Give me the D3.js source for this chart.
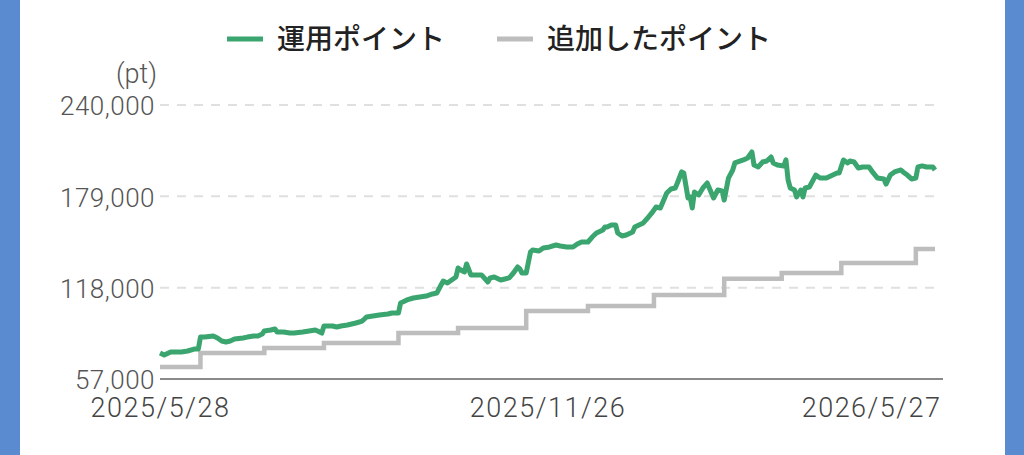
<!DOCTYPE html>
<html>
<head>
<meta charset="utf-8">
<script src="https://cdn.jsdelivr.net/npm/d3@7"></script>
<style>
  html, body { margin: 0; padding: 0; background: #fff; }
  body { width: 1024px; height: 455px; overflow: hidden; }
  .tick text { font-family: Roboto, "Noto Sans", sans-serif; font-weight: 300; }
</style>
</head>
<body>
<div id="chart"></div>
<script>
// days counted from the first date on the x axis
const startDate = "2025-05-28";
const xTickDays = [0, 182, 364];
const xTickLabels = ["2025/5/28", "2025/11/26", "2026/5/27"];
const yTicks = [57000, 118000, 179000, 240000];

const seriesNames = ["運用ポイント", "追加したポイント"];
const seriesColors = ["#3ba56f", "#bdbdbd"];

// 運用ポイント
const greenDays = [0, 2, 5, 7, 10, 13, 16, 18, 19, 21, 25, 27, 29, 31, 33, 35, 39, 41, 44, 46,
  48, 49, 52, 54, 55, 58, 61, 63, 67, 70, 73, 74, 76, 77, 81, 83, 85, 88, 92, 95,
  97, 100, 103, 107, 109, 112, 113, 114, 116, 119, 122, 125, 128, 130, 132, 133, 135, 137, 139, 140,
  142, 143, 144, 146, 148, 151, 154, 155, 157, 160, 162, 164, 166, 168, 169, 170, 172, 174, 175, 178,
  180, 183, 186, 188, 191, 194, 196, 198, 201, 203, 205, 208, 209, 210, 212, 214, 215, 217, 219, 222,
  223, 225, 227, 229, 231, 233, 235, 236, 238, 240, 242, 243, 245, 246, 248, 249, 250, 251, 253, 255,
  257, 258, 260, 262, 264, 265, 267, 269, 270, 274, 276, 278, 279, 281, 283, 285, 287, 288, 290, 293,
  294, 295, 296, 298, 299, 301, 302, 303, 305, 308, 310, 313, 316, 318, 319, 321, 323, 324, 326, 328,
  330, 333, 335, 337, 340, 341, 343, 345, 348, 349, 351, 353, 355, 356, 358, 360, 363, 364];
const greenValues = [74400, 73000, 75000, 75000, 75000, 75700, 77000, 77000, 85000, 85000, 85700, 84400, 82400, 81700, 82400, 83700, 84400, 85000, 85700, 85700,
  87000, 89100, 89700, 90400, 88400, 88400, 87700, 87700, 88400, 89100, 89700, 89100, 87700, 92400, 92400, 91700, 92400, 93100, 94400, 95700,
  98400, 99100, 99700, 100400, 101100, 101100, 107800, 108400, 109800, 111100, 111800, 112400, 113800, 114400, 119800, 122400, 121100, 123100, 125100, 131100,
  129100, 128500, 133800, 126500, 126500, 126500, 121800, 124500, 125100, 123100, 123800, 124500, 127800, 131800, 130500, 127800, 127800, 141800, 143200, 142500,
  144500, 145200, 146500, 145800, 145200, 145200, 147200, 148500, 148500, 151800, 154500, 156500, 158500, 158500, 159900, 159900, 154500, 152500, 153200, 155200,
  158500, 159900, 161200, 164500, 167900, 171900, 171200, 174500, 181200, 183900, 184600, 187900, 195300, 194600, 177900, 178600, 171200, 181900, 179900, 184600,
  187900, 184600, 177900, 183200, 182600, 176500, 191200, 196600, 201300, 203300, 204600, 208600, 199900, 198600, 201900, 202600, 205300, 201300, 199900, 199300,
  203300, 189900, 184600, 183200, 178600, 183200, 178600, 184600, 185200, 193200, 191200, 191200, 193200, 194600, 194600, 203300, 201300, 202600, 201900, 197900,
  198600, 198600, 194600, 191200, 190600, 187200, 193200, 195300, 196600, 195300, 193200, 190600, 191200, 198600, 199300, 198600, 198600, 196600];

// 追加したポイント (steps)
const grayDays = [0, 19, 49, 77, 112, 140, 172, 201, 232, 265, 292, 320, 355, 364];
const grayValues = [65000, 74400, 77700, 81000, 87700, 91100, 102400, 105700, 113100, 124000, 127800, 134500, 143800, 143800];

const W = 1024, H = 455;
const x0 = 160, x1 = 935, yTop = 105, yBottom = 379;

const svg = d3.select("#chart").append("svg")
  .attr("width", W)
  .attr("height", H);

// blue frame on both sides
svg.append("rect").attr("x", 0).attr("y", 0).attr("width", 20).attr("height", H).attr("fill", "#5a8bd0");
svg.append("rect").attr("x", 1005).attr("y", 0).attr("width", 19).attr("height", H).attr("fill", "#5a8bd0");

const xScale = d3.scaleLinear().domain([0, 364]).range([x0, x1]);
const yScale = d3.scaleLinear().domain([57000, 240000]).range([yBottom, yTop]);

// grid lines
svg.append("g")
  .selectAll("line")
  .data(yTicks.slice(1))
  .join("line")
  .attr("x1", x0)
  .attr("x2", 938)
  .attr("y1", d => yScale(d))
  .attr("y2", d => yScale(d))
  .attr("stroke", "#e0e0e0")
  .attr("stroke-width", 2)
  .attr("stroke-dasharray", "9,8");

// y axis labels
const yAxis = svg.append("g")
  .attr("transform", `translate(${x0},0)`)
  .call(d3.axisLeft(yScale).tickValues(yTicks).tickFormat(d3.format(",")).tickSize(0).tickPadding(5));
yAxis.select(".domain").remove();
yAxis.selectAll("text")
  .attr("font-size", 26)
  .attr("letter-spacing", 0.5)
  .attr("fill", "#555")
  .attr("dy", "0.38em");

svg.append("text")
  .attr("x", 157)
  .attr("y", 83)
  .attr("text-anchor", "end")
  .attr("font-family", "Roboto, 'Noto Sans', sans-serif")
  .attr("font-weight", 300)
  .attr("font-size", 27)
  .attr("fill", "#555")
  .text("(pt)");

// x axis
const xAxis = svg.append("g")
  .attr("transform", `translate(0,${yBottom})`)
  .call(d3.axisBottom(xScale).tickValues(xTickDays).tickFormat((d, i) => xTickLabels[i]).tickSize(0).tickPadding(19));
xAxis.select(".domain").remove();
xAxis.selectAll("text")
  .attr("font-size", 27)
  .attr("letter-spacing", 1.5)
  .attr("fill", "#444")
  .attr("text-anchor", (d, i) => i === 2 ? "end" : "middle")
  .attr("dx", (d, i) => i === 2 ? 6 : 0);

svg.append("line")
  .attr("x1", x0).attr("x2", 943)
  .attr("y1", yBottom).attr("y2", yBottom)
  .attr("stroke", "#8a8a8a")
  .attr("stroke-width", 2);

// lines
const grayData = grayDays.map((d, i) => ({ day: d, value: grayValues[i] }));
const greenData = greenDays.map((d, i) => ({ day: d, value: greenValues[i] }));

svg.append("path")
  .datum(grayData)
  .attr("fill", "none")
  .attr("stroke", seriesColors[1])
  .attr("stroke-width", 4.5)
  .attr("d", d3.line().curve(d3.curveStepAfter).x(d => xScale(d.day)).y(d => yScale(d.value)));

svg.append("path")
  .datum(greenData)
  .attr("fill", "none")
  .attr("stroke", seriesColors[0])
  .attr("stroke-width", 5)
  .attr("stroke-linejoin", "round")
  .attr("d", d3.line().x(d => xScale(d.day)).y(d => yScale(d.value)));

// legend
const legendX = [227, 497];
const legend = svg.selectAll(".legend")
  .data(seriesNames)
  .join("g")
  .attr("class", "legend")
  .attr("transform", (d, i) => `translate(${legendX[i]},39)`);

legend.append("line")
  .attr("x1", 0).attr("x2", 36)
  .attr("stroke", (d, i) => seriesColors[i])
  .attr("stroke-width", 5);

legend.append("text")
  .attr("x", 50)
  .attr("y", 10)
  .attr("font-family", "'Noto Sans CJK JP', sans-serif")
  .attr("font-weight", 500)
  .attr("font-size", 28)
  .attr("fill", "#222")
  .text(d => d);
</script>
</body>
</html>
